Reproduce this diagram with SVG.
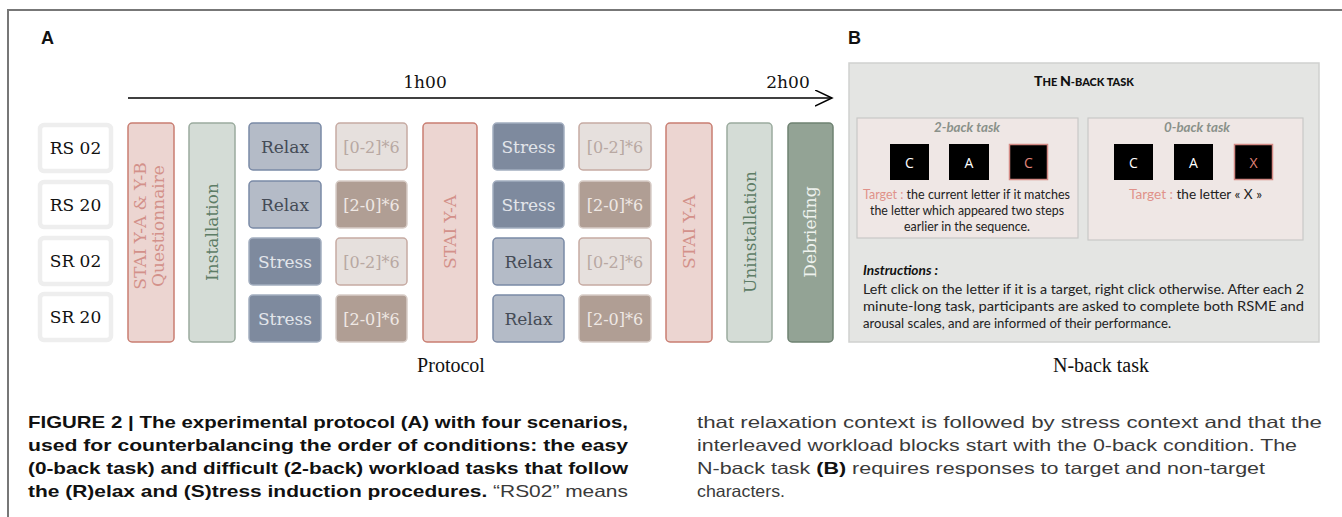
<svg xmlns="http://www.w3.org/2000/svg" width="1342" height="517" viewBox="0 0 1342 517">
<style>
.ser{font-family:"DejaVu Serif",serif;font-size:17px;text-anchor:middle}
.tim{font-family:"Liberation Serif",serif;font-size:20px;fill:#111;text-anchor:middle}
.rs rect{fill:#fff;stroke:#eeeeee;stroke-width:4.5}
.rs text{fill:#111}
.stai rect{fill:#ecd5d1;stroke:#c97e72;stroke-width:1.5}
.stai text{fill:#d3918a}
.inst rect{fill:#d4dcd6;stroke:#9aab9e;stroke-width:1.5}
.inst text{fill:#5e7d66}
.deb rect{fill:#93a395;stroke:#6f8272;stroke-width:1.5}
.deb text{fill:#eef2ee}
.relax rect{fill:#b4bbc7;stroke:#7a8aa6;stroke-width:1.5}
.relax text{fill:#454b56}
.stress rect{fill:#7e8a9e;stroke:#a3aec0;stroke-width:1.5}
.stress text{fill:#e2e5ea}
.b02 rect{fill:#e6e0dd;stroke:#c6aaa2;stroke-width:1.5}
.b02 text{fill:#b8a8a2;font-size:16px}
.b20 rect{fill:#b09e94;stroke:#d8cdc7;stroke-width:1.5}
.b20 text{fill:#efe8e4;font-size:16px}
.cal{font-family:Lato,"Open Sans",sans-serif;font-size:12.5px;fill:#222}
.tgt{fill:#e0928a}
.sq{fill:#000}
.sqr{fill:#000;stroke:#d48a85;stroke-width:1.5}
.lt{font-family:"Open Sans",sans-serif;font-size:14px;fill:#fff;text-anchor:middle}
.cap{font-family:"Liberation Sans",Arial,sans-serif;font-size:16.5px;fill:#111}
.capb{font-weight:bold}
.capr{fill:#3a3a3a}
</style>
<defs>
<marker id="open" markerWidth="20" markerHeight="20" refX="17" refY="8" orient="auto" markerUnits="userSpaceOnUse">
<path d="M0,0 L17,8 L0,16" fill="none" stroke="#000" stroke-width="1.5"/>
</marker>
</defs>

<path d="M8,517 V10 H1342" fill="none" stroke="#777" stroke-width="2"/>

<text x="41" y="44" font-family="Liberation Sans,Arial,sans-serif" font-weight="bold" font-size="18" fill="#111">A</text>
<text x="848" y="44" font-family="Liberation Sans,Arial,sans-serif" font-weight="bold" font-size="18" fill="#111">B</text>

<g id="connectors">
<line x1="128" y1="98" x2="832" y2="98" stroke="#000" stroke-width="1.5" marker-end="url(#open)"/>
</g>
<text class="ser" x="425" y="88" font-size="16" fill="#111">1h00</text>
<text class="ser" x="788" y="88" font-size="16" fill="#111">2h00</text>

<g id="rs02" class="rs"><rect x="40" y="125" width="71" height="46" rx="4"/><text class="ser" x="75.5" y="154">RS 02</text></g>
<g id="rs20" class="rs"><rect x="40" y="182" width="71" height="45" rx="4"/><text class="ser" x="75.5" y="210.5">RS 20</text></g>
<g id="sr02" class="rs"><rect x="40" y="238" width="71" height="46" rx="4"/><text class="ser" x="75.5" y="267">SR 02</text></g>
<g id="sr20" class="rs"><rect x="40" y="294" width="71" height="46" rx="4"/><text class="ser" x="75.5" y="323">SR 20</text></g>

<g id="stai1" class="stai"><rect x="128" y="123" width="46" height="219" rx="4"/>
<text class="ser" transform="translate(146,226) rotate(-90)" x="0" y="0">STAI Y-A &amp; Y-B</text>
<text class="ser" transform="translate(164,226) rotate(-90)" x="0" y="0">Questionnaire</text></g>

<g id="installation" class="inst"><rect x="189" y="123" width="46" height="219" rx="4"/>
<text class="ser" transform="translate(218,232) rotate(-90)">Installation</text></g>

<g id="c1r1" class="relax"><rect x="249" y="123" width="72" height="47" rx="4"/><text class="ser" x="285" y="152.5">Relax</text></g>
<g id="c1r2" class="relax"><rect x="249" y="181" width="72" height="47" rx="4"/><text class="ser" x="285" y="210.5">Relax</text></g>
<g id="c1r3" class="stress"><rect x="249" y="238" width="72" height="47" rx="4"/><text class="ser" x="285" y="267.5">Stress</text></g>
<g id="c1r4" class="stress"><rect x="249" y="295" width="72" height="47" rx="4"/><text class="ser" x="285" y="324.5">Stress</text></g>

<g id="c2r1" class="b02"><rect x="336" y="123" width="71" height="47" rx="4"/><text class="ser" x="371.5" y="152.5">[0-2]*6</text></g>
<g id="c2r2" class="b20"><rect x="336" y="181" width="71" height="47" rx="4"/><text class="ser" x="371.5" y="210.5">[2-0]*6</text></g>
<g id="c2r3" class="b02"><rect x="336" y="238" width="71" height="47" rx="4"/><text class="ser" x="371.5" y="267.5">[0-2]*6</text></g>
<g id="c2r4" class="b20"><rect x="336" y="295" width="71" height="47" rx="4"/><text class="ser" x="371.5" y="324.5">[2-0]*6</text></g>

<g id="stai2" class="stai"><rect x="423" y="123" width="54" height="219" rx="4"/>
<text class="ser" transform="translate(456,232) rotate(-90)">STAI Y-A</text></g>

<g id="c3r1" class="stress"><rect x="493" y="123" width="71" height="47" rx="4"/><text class="ser" x="528.5" y="152.5">Stress</text></g>
<g id="c3r2" class="stress"><rect x="493" y="181" width="71" height="47" rx="4"/><text class="ser" x="528.5" y="210.5">Stress</text></g>
<g id="c3r3" class="relax"><rect x="493" y="238" width="71" height="47" rx="4"/><text class="ser" x="528.5" y="267.5">Relax</text></g>
<g id="c3r4" class="relax"><rect x="493" y="295" width="71" height="47" rx="4"/><text class="ser" x="528.5" y="324.5">Relax</text></g>

<g id="c4r1" class="b02"><rect x="579" y="123" width="72" height="47" rx="4"/><text class="ser" x="615" y="152.5">[0-2]*6</text></g>
<g id="c4r2" class="b20"><rect x="579" y="181" width="72" height="47" rx="4"/><text class="ser" x="615" y="210.5">[2-0]*6</text></g>
<g id="c4r3" class="b02"><rect x="579" y="238" width="72" height="47" rx="4"/><text class="ser" x="615" y="267.5">[0-2]*6</text></g>
<g id="c4r4" class="b20"><rect x="579" y="295" width="72" height="47" rx="4"/><text class="ser" x="615" y="324.5">[2-0]*6</text></g>

<g id="stai3" class="stai"><rect x="666" y="123" width="46" height="219" rx="4"/>
<text class="ser" transform="translate(695,232) rotate(-90)">STAI Y-A</text></g>

<g id="uninstallation" class="inst"><rect x="727" y="123" width="45" height="219" rx="4"/>
<text class="ser" transform="translate(756,232) rotate(-90)">Uninstallation</text></g>

<g id="debriefing" class="deb"><rect x="788" y="123" width="45" height="219" rx="4"/>
<text class="ser" transform="translate(816,232) rotate(-90)">Debriefing</text></g>

<text class="tim" x="451" y="372">Protocol</text>

<g id="nback">
<rect x="849" y="63" width="470" height="279" fill="#e4e5e3" stroke="#d0d1cf" stroke-width="1.5"/>
<text x="1084" y="86" font-family="Lato,'Open Sans',sans-serif" font-weight="900" fill="#111" text-anchor="middle" textLength="100" lengthAdjust="spacingAndGlyphs"><tspan font-size="13.5">T</tspan><tspan font-size="10.5">HE </tspan><tspan font-size="13.5">N</tspan><tspan font-size="10.5">-BACK TASK</tspan></text>

<g id="twoback">
<rect x="857" y="118" width="221" height="120" fill="#efe7e5" stroke="#c9c9c7" stroke-width="1.2"/>
<text x="967" y="132" font-family="Lato,'Open Sans',sans-serif" font-size="13" font-weight="bold" font-style="italic" fill="#8a918a" text-anchor="middle" textLength="66" lengthAdjust="spacingAndGlyphs">2-back task</text>
<rect class="sq" x="890" y="144" width="39" height="36"/>
<rect class="sq" x="949" y="144" width="40" height="36"/>
<rect class="sqr" x="1009.5" y="144.5" width="38" height="35"/>
<text class="lt" x="909.5" y="168">C</text>
<text class="lt" x="969" y="168">A</text>
<text class="lt" x="1028.5" y="168" style="fill:#e0857a">C</text>
<text class="cal" x="863" y="199" font-size="13" textLength="207" lengthAdjust="spacingAndGlyphs"><tspan class="tgt">Target :</tspan> the current letter if it matches</text>
<text class="cal" x="870" y="215" font-size="13" textLength="194" lengthAdjust="spacingAndGlyphs">the letter which appeared two steps</text>
<text class="cal" x="904" y="231" font-size="13" textLength="126" lengthAdjust="spacingAndGlyphs">earlier in the sequence.</text>
</g>

<g id="zeroback">
<rect x="1088" y="118" width="215" height="122" fill="#efe7e5" stroke="#c9c9c7" stroke-width="1.2"/>
<text x="1197" y="132" font-family="Lato,'Open Sans',sans-serif" font-size="13" font-weight="bold" font-style="italic" fill="#8a918a" text-anchor="middle" textLength="66" lengthAdjust="spacingAndGlyphs">0-back task</text>
<rect class="sq" x="1114" y="144" width="39" height="36"/>
<rect class="sq" x="1174" y="144" width="39" height="36"/>
<rect class="sqr" x="1234.5" y="144.5" width="38" height="35"/>
<text class="lt" x="1133.5" y="168">C</text>
<text class="lt" x="1193.5" y="168">A</text>
<text class="lt" x="1253.5" y="168" style="fill:#e0857a">X</text>
<text class="cal" x="1129" y="199" font-size="13" textLength="133" lengthAdjust="spacingAndGlyphs"><tspan class="tgt">Target :</tspan> the letter  « X »</text>
</g>

<text x="863" y="275" font-family="Lato,'Open Sans',sans-serif" font-size="13.5" font-weight="bold" font-style="italic" fill="#111" textLength="75" lengthAdjust="spacingAndGlyphs">Instructions :</text>
<text class="cal" x="863" y="294" font-size="13.5" textLength="441" lengthAdjust="spacingAndGlyphs">Left click on the letter if it is a target, right click otherwise. After each 2</text>
<text class="cal" x="863" y="311" font-size="13.5" textLength="441" lengthAdjust="spacingAndGlyphs">minute-long task, participants are asked to complete both RSME and</text>
<text class="cal" x="863" y="328" font-size="13.5" textLength="308" lengthAdjust="spacingAndGlyphs">arousal scales, and are informed of their performance.</text>
</g>

<text class="tim" x="1101" y="372">N-back task</text>

<g id="caption">
<text class="cap capb" x="28" y="428" textLength="600" lengthAdjust="spacingAndGlyphs">FIGURE 2 | The experimental protocol (A) with four scenarios,</text>
<text class="cap capb" x="28" y="451" textLength="600" lengthAdjust="spacingAndGlyphs">used for counterbalancing the order of conditions: the easy</text>
<text class="cap capb" x="28" y="474" textLength="600" lengthAdjust="spacingAndGlyphs">(0-back task) and difficult (2-back) workload tasks that follow</text>
<text class="cap" x="28" y="497" textLength="600" lengthAdjust="spacingAndGlyphs"><tspan class="capb">the (R)elax and (S)tress induction procedures.</tspan><tspan class="capr"> “RS02”  means</tspan></text>
<text class="cap capr" x="697" y="428" font-size="17" textLength="625" lengthAdjust="spacingAndGlyphs">that relaxation context is followed by stress context and that the</text>
<text class="cap capr" x="697" y="451" font-size="17" textLength="600" lengthAdjust="spacingAndGlyphs">interleaved workload blocks start with the 0-back condition. The</text>
<text class="cap capr" x="697" y="474" font-size="17" textLength="568" lengthAdjust="spacingAndGlyphs">N-back task <tspan class="capb" fill="#111">(B)</tspan> requires responses to target and non-target</text>
<text class="cap capr" x="697" y="497" font-size="17" textLength="88" lengthAdjust="spacingAndGlyphs">characters.</text>
</g>
</svg>
